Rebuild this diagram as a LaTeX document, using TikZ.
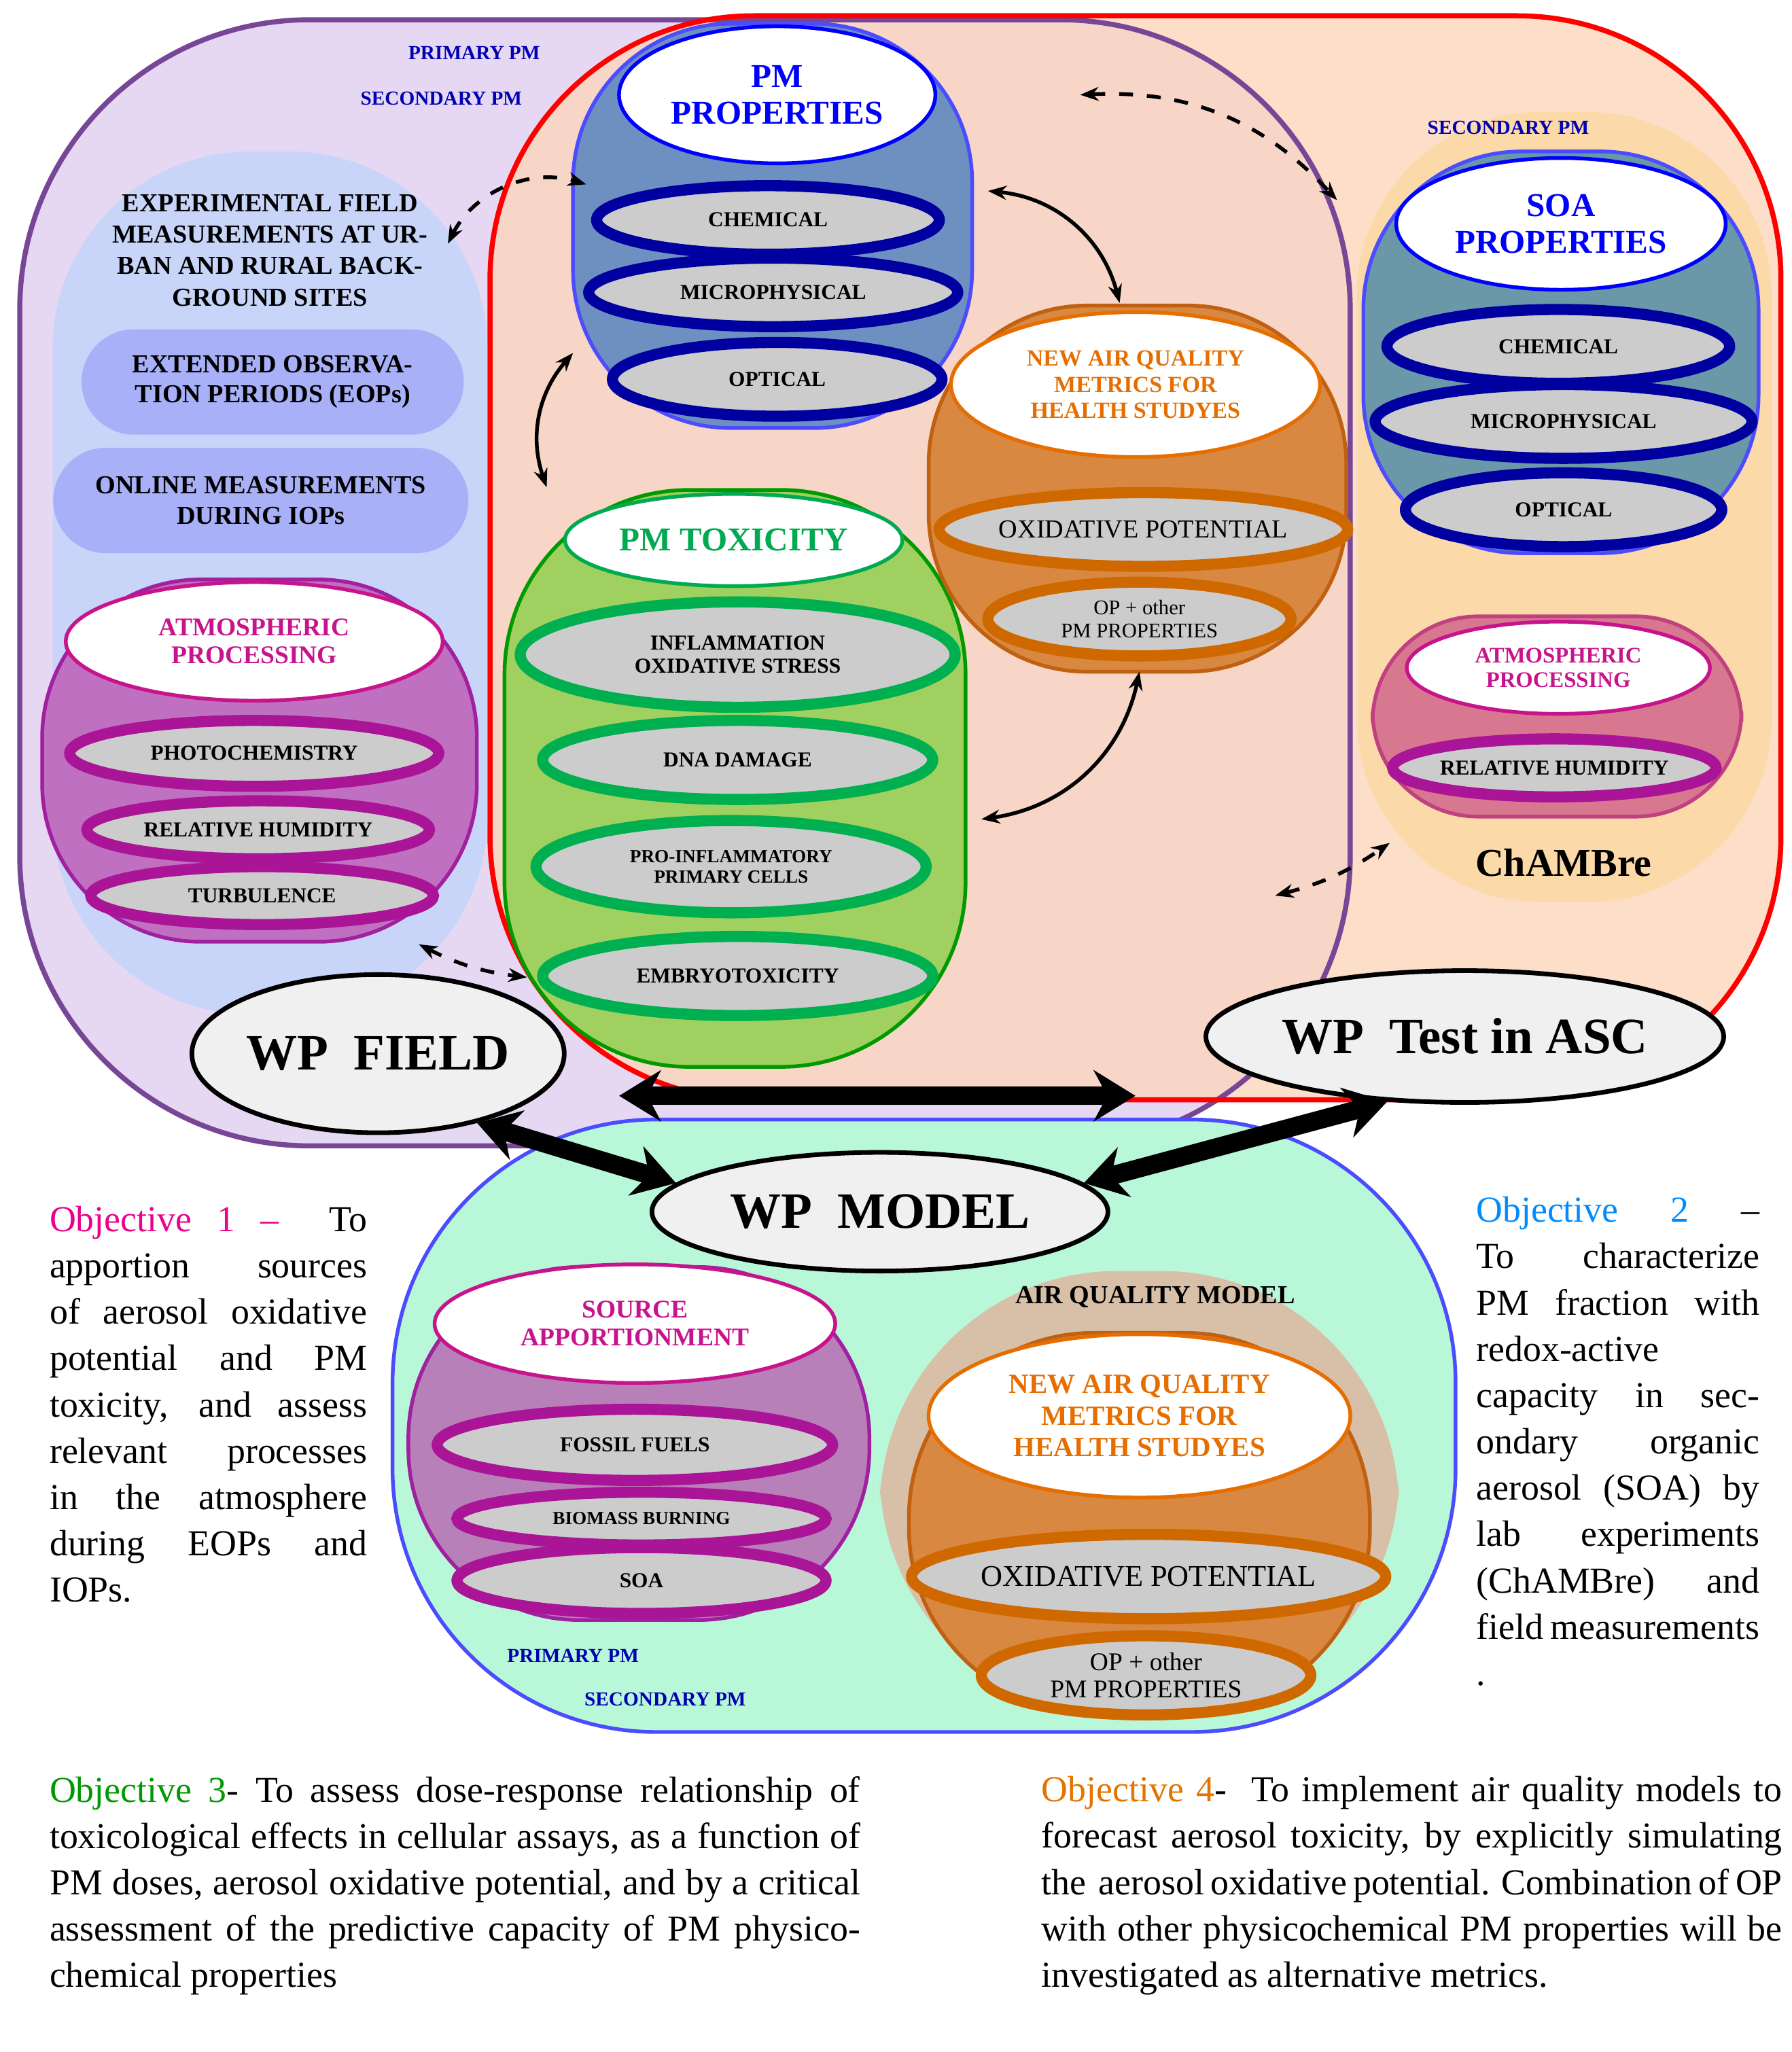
\documentclass[tikz,border=0pt]{standalone}
\usepackage{fontspec}
\setmainfont{Liberation Serif}
\usetikzlibrary{shapes.geometric,arrows.meta}
\definecolor{lav}{RGB}{230,216,243}
\definecolor{peach}{RGB}{252,214,188}
\definecolor{purpb}{RGB}{120,70,150}
\definecolor{lblue}{RGB}{200,212,248}
\definecolor{boxb}{RGB}{168,176,248}
\definecolor{mfill}{RGB}{192,112,192}
\definecolor{mdraw}{RGB}{160,32,160}
\definecolor{mtext}{RGB}{200,20,140}
\definecolor{mring}{RGB}{170,20,150}
\definecolor{bfill}{RGB}{110,144,192}
\definecolor{bring}{RGB}{0,0,160}
\definecolor{gfill}{RGB}{160,208,96}
\definecolor{gring}{RGB}{0,176,80}
\definecolor{gtext}{RGB}{0,170,80}
\definecolor{ofill}{RGB}{216,136,64}
\definecolor{odraw}{RGB}{192,96,16}
\definecolor{otext}{RGB}{230,110,0}
\definecolor{oring}{RGB}{208,104,0}
\definecolor{chfill}{RGB}{251,217,168}
\definecolor{sfill}{RGB}{106,152,168}
\definecolor{pfill}{RGB}{216,120,144}
\definecolor{pdraw}{RGB}{192,64,128}
\definecolor{mint}{RGB}{184,248,216}
\definecolor{safill}{RGB}{184,128,184}
\definecolor{beige}{RGB}{216,192,168}
\begin{document}
\begin{tikzpicture}[x=0.01cm,y=-0.01cm,
 ring/.style={ellipse,draw=#1,line width=2.4pt,fill=gray!40,inner sep=0pt,font=\fontsize{4.6}{5}\selectfont\bfseries,align=center},
 head/.style={ellipse,draw=#1,line width=0.8pt,fill=white,inner sep=0pt,text=#1,font=\fontsize{5.5}{6}\selectfont\bfseries,align=center},
 wp/.style={ellipse,draw=black,line width=1pt,fill=gray!12,inner sep=0pt,font=\fontsize{11}{12}\selectfont\bfseries},
 small/.style={font=\fontsize{4.3}{5}\selectfont\bfseries,text=blue!70!black},
 big/.style={line width=4pt,{Stealth[length=9pt,width=11pt]}-{Stealth[length=9pt,width=11pt]}},
 dsh/.style={dashed,line width=0.8pt,{Stealth[length=4pt]}-{Stealth[length=4pt]}},
 sol/.style={line width=0.8pt,{Stealth[length=4pt]}-{Stealth[length=4pt]}},
 obj/.style={font=\fontsize{7.9}{10}\selectfont,align=justify,inner sep=0pt,anchor=north west}]
\useasboundingbox (0,0) rectangle (1360,1558);
\fill[white] (0,0) rectangle (1360,1558);
% big regions
\fill[rounded corners=2.2cm,fill=lav] (15,15) rectangle (1025,870);
\fill[rounded corners=2cm,fill=peach,opacity=0.8] (372,12) rectangle (1352,835);
\draw[rounded corners=2.2cm,draw=purpb,line width=1.1pt] (15,15) rectangle (1025,870);
\draw[rounded corners=2cm,draw=red,line width=1.1pt] (372,12) rectangle (1352,835);
% left inner
\fill[rounded corners=1.5cm,fill=lblue] (40,115) rectangle (370,770);
\node[small] (ppm1) at (360,40) {PRIMARY PM};
\node[small] (spm1) at (335,75) {SECONDARY PM};
\node[font=\fontsize{5.6}{6.8}\selectfont\bfseries,align=center] (exp) at (205,190) {EXPERIMENTAL FIELD\\MEASUREMENTS AT UR-\\BAN AND RURAL BACK-\\GROUND SITES};
\node[draw=none,fill=boxb,rounded corners=0.4cm,minimum width=2.9cm,minimum height=0.8cm,font=\fontsize{5.6}{6.5}\selectfont\bfseries,align=center] (eop) at (207,290) {EXTENDED OBSERVA-\\TION PERIODS (EOPs)};
\node[draw=none,fill=boxb,rounded corners=0.4cm,minimum width=3.15cm,minimum height=0.8cm,font=\fontsize{5.6}{6.5}\selectfont\bfseries,align=center] (onl) at (198,380) {ONLINE MEASUREMENTS\\DURING IOPs};
% atmospheric processing left
\filldraw[rounded corners=1.2cm,fill=mfill,draw=mdraw,line width=0.8pt] (32,440) rectangle (362,715);
\node[head=mtext,minimum width=2.86cm,minimum height=0.9cm] (ap1) at (193,487) {ATMOSPHERIC\\PROCESSING};
\node[ring=mring,minimum width=2.8cm,minimum height=0.5cm] (ph) at (193,572) {PHOTOCHEMISTRY};
\node[ring=mring,minimum width=2.6cm,minimum height=0.44cm] (rh1) at (196,630) {RELATIVE HUMIDITY};
\node[ring=mring,minimum width=2.6cm,minimum height=0.44cm] (tu) at (199,680) {TURBULENCE};
% PM properties
\filldraw[rounded corners=1.2cm,fill=bfill,draw=blue!70,line width=0.8pt] (435,18) rectangle (738,325);
\node[head=blue,minimum width=2.4cm,minimum height=1.04cm,font=\fontsize{7.2}{8}\selectfont\bfseries] (pmp) at (590,72) {PM\\PROPERTIES};
\node[ring=bring,minimum width=2.6cm,minimum height=0.52cm] (ch1) at (583,167) {CHEMICAL};
\node[ring=bring,minimum width=2.8cm,minimum height=0.52cm] (mi1) at (587,222) {MICROPHYSICAL};
\node[ring=bring,minimum width=2.5cm,minimum height=0.56cm] (op1) at (590,288) {OPTICAL};
% PM toxicity
\filldraw[rounded corners=1.4cm,fill=gfill,draw=green!60!black,line width=0.8pt] (383,372) rectangle (733,810);
\node[head=gtext,minimum width=2.56cm,minimum height=0.7cm,font=\fontsize{7.2}{8}\selectfont\bfseries] (tox) at (557,410) {PM TOXICITY};
\node[ring=gring,minimum width=3.3cm,minimum height=0.8cm] (inf) at (560,497) {INFLAMMATION\\OXIDATIVE STRESS};
\node[ring=gring,minimum width=2.96cm,minimum height=0.6cm] (dna) at (560,577) {DNA DAMAGE};
\node[ring=gring,minimum width=2.96cm,minimum height=0.7cm,font=\fontsize{4}{4.5}\selectfont\bfseries] (pro) at (555,658) {PRO-INFLAMMATORY\\PRIMARY CELLS};
\node[ring=gring,minimum width=2.96cm,minimum height=0.6cm] (emb) at (560,741) {EMBRYOTOXICITY};
% new AQ metrics
\filldraw[rounded corners=1.2cm,fill=ofill,draw=odraw,line width=0.8pt] (705,232) rectangle (1022,510);
\node[head=otext,minimum width=2.8cm,minimum height=1.1cm,font=\fontsize{5}{5.6}\selectfont\bfseries] (naq1) at (862,292) {NEW AIR QUALITY\\METRICS FOR\\HEALTH STUDYES};
\node[ring=oring,minimum width=3.1cm,minimum height=0.56cm,font=\fontsize{5.6}{6}\selectfont] (ox1) at (868,402) {OXIDATIVE POTENTIAL};
\node[ring=oring,minimum width=2.3cm,minimum height=0.56cm,font=\fontsize{4.5}{5}\selectfont] (opo1) at (865,470) {OP + other\\PM PROPERTIES};
% ChAMBre
\fill[rounded corners=1.4cm,fill=chfill] (1030,85) rectangle (1345,685);
\node[small] (spm2) at (1145,97) {SECONDARY PM};
\filldraw[rounded corners=1.2cm,fill=sfill,draw=blue!70,line width=0.8pt] (1035,115) rectangle (1335,420);
\node[head=blue,minimum width=2.5cm,minimum height=1cm,font=\fontsize{7.2}{8}\selectfont\bfseries] (soa) at (1185,170) {SOA\\PROPERTIES};
\node[ring=bring,minimum width=2.6cm,minimum height=0.56cm] (ch2) at (1183,263) {CHEMICAL};
\node[ring=bring,minimum width=2.86cm,minimum height=0.56cm] (mi2) at (1187,320) {MICROPHYSICAL};
\node[ring=bring,minimum width=2.4cm,minimum height=0.56cm] (op2) at (1187,387) {OPTICAL};
\filldraw[rounded corners=0.8cm,fill=pfill,draw=pdraw,line width=0.8pt] (1042,468) rectangle (1322,620);
\node[head=mtext,minimum width=2.3cm,minimum height=0.7cm,font=\fontsize{4.8}{5.2}\selectfont\bfseries] (ap2) at (1183,507) {ATMOSPHERIC\\PROCESSING};
\node[ring=mring,minimum width=2.16cm,minimum height=0.44cm] (rh2) at (1180,583) {RELATIVE HUMIDITY};
\node[font=\fontsize{8.5}{9}\selectfont\bfseries] (chb) at (1187,655) {ChAMBre};
% model region
\filldraw[rounded corners=2cm,fill=mint,draw=blue!70,line width=0.8pt] (298,850) rectangle (1105,1315);
\filldraw[rounded corners=1.3cm,fill=safill,draw=mdraw,line width=0.8pt] (310,962) rectangle (660,1230);
\node[head=mtext,minimum width=3.04cm,minimum height=0.9cm] (sa) at (482,1005) {SOURCE\\APPORTIONMENT};
\node[ring=mring,minimum width=3cm,minimum height=0.54cm] (ff) at (482,1097) {FOSSIL FUELS};
\node[ring=mring,minimum width=2.8cm,minimum height=0.4cm,font=\fontsize{4}{4.5}\selectfont\bfseries] (bb) at (487,1153) {BIOMASS BURNING};
\node[ring=mring,minimum width=2.8cm,minimum height=0.5cm] (soa2) at (487,1200) {SOA};
\fill[rounded corners=1.8cm,fill=beige] (668,965) rectangle (1062,1300);
\node[font=\fontsize{5.6}{6}\selectfont\bfseries] (aqm) at (877,985) {AIR QUALITY MODEL};
\filldraw[rounded corners=1.4cm,fill=ofill,draw=odraw,line width=0.8pt] (690,1012) rectangle (1040,1300);
\node[head=otext,minimum width=3.2cm,minimum height=1.24cm,font=\fontsize{6}{6.8}\selectfont\bfseries] (naq2) at (865,1075) {NEW AIR QUALITY\\METRICS FOR\\HEALTH STUDYES};
\node[ring=oring,minimum width=3.2cm,minimum height=0.64cm,font=\fontsize{6.5}{7}\selectfont] (ox2) at (872,1197) {OXIDATIVE POTENTIAL};
\node[ring=oring,minimum width=2.5cm,minimum height=0.6cm,font=\fontsize{5.5}{5.8}\selectfont] (opo2) at (870,1272) {OP + other\\PM PROPERTIES};
\node[small] (ppm3) at (435,1257) {PRIMARY PM};
\node[small] (spm3) at (505,1290) {SECONDARY PM};
% WP ellipses
\node[wp,minimum width=2.66cm,minimum height=1.2cm] (wpf) at (287,800) {WP\ \ FIELD};
\node[wp,minimum width=3.46cm,minimum height=1cm] (wpt) at (1112,787) {WP\ \ Test in ASC};
\node[wp,minimum width=3.46cm,minimum height=0.9cm] (wpm) at (668,920) {WP\ \ MODEL};
% arrows
\coordinate (h1) at (470,832); \coordinate (h2) at (862,832);
\draw[big] (h1) -- (h2);
\draw[big] (wpf.-35) -- (wpm.172);
\draw[big] (wpt.-140) -- (wpm.8);
\coordinate (d1) at (820,72); \coordinate (d2) at (1015,152);
\draw[dsh] (d1) to[bend left=25] (d2);
\coordinate (d3) at (340,185); \coordinate (d4) at (445,140);
\draw[dsh] (d3) to[bend left=40] (d4);
\coordinate (d5) at (318,717); \coordinate (d6) at (400,742);
\draw[dsh] (d5) to[bend right=10] (d6);
\coordinate (d7) at (968,680); \coordinate (d8) at (1055,640);
\draw[dsh] (d7) to[bend right=10] (d8);
\coordinate (s1) at (750,145); \coordinate (s2) at (850,230);
\draw[sol] (s1) to[bend left=35] (s2);
\coordinate (s3) at (435,268); \coordinate (s4) at (415,370);
\draw[sol] (s3) to[bend right=30] (s4);
\coordinate (s5) at (745,622); \coordinate (s6) at (865,510);
\draw[sol] (s5) to[bend right=35] (s6);
% objectives
\node[obj,text width=2.41cm] (o1) at (37,915) {\textcolor{magenta}{Objective 1 --} \ To apportion sources of aerosol oxidative potential and PM toxicity, and assess relevant processes in the atmosphere during EOPs and IOPs.};
\node[obj,text width=2.15cm] (o2) at (1120,908) {\textcolor{blue!45!cyan}{Objective 2} -- To characterize PM fraction with re\-dox-active capac\-ity in secondary organic aerosol (SOA) by lab ex\-periments (ChAMBre) and field measure\-ments .};
\node[obj,text width=6.15cm] (o3) at (37,1348) {\textcolor{green!60!black}{Objective 3}- To assess dose-response relationship of toxicological effects in cellular assays, as a function of PM doses, aerosol oxidative potential, and by a critical assessment of the predictive capacity of PM physicochemical properties};
\node[obj,text width=5.62cm] (o4) at (790,1348) {\textcolor{orange!90!black}{Objective 4}- \ To implement air quality models to forecast aerosol toxicity, by explicitly simulating the \ aerosol oxidative potential. Combination of OP with other physicochemical PM properties will be investigated as alternative metrics.};
\end{tikzpicture}
\end{document}
